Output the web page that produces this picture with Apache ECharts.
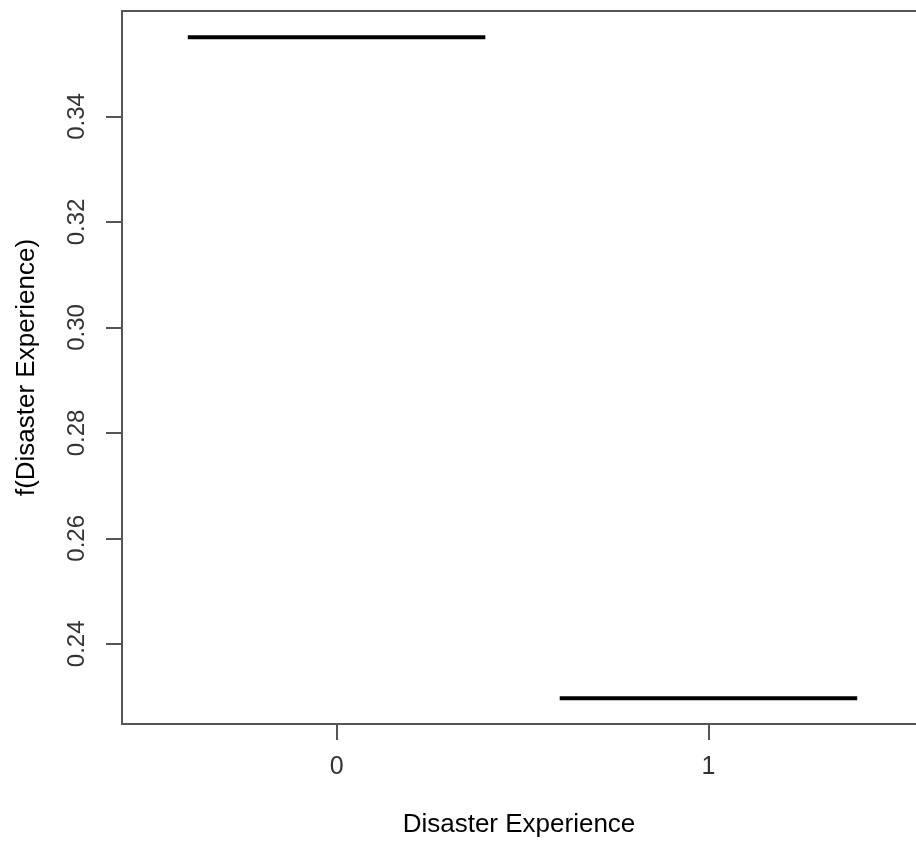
<!DOCTYPE html>
<html>
<head>
<meta charset="utf-8">
<script src="https://cdn.jsdelivr.net/npm/echarts@6/dist/echarts.min.js"></script>
<style>
  html, body { margin: 0; padding: 0; background: #fff; }
  #main { width: 916px; height: 846px; }
</style>
</head>
<body>
<div id="main"></div>
<script type="text/javascript">
    // levels of the factor and the fitted effect for each
    var levels = [0, 1];
    var effects = [0.355, 0.2297];
    var halfWidth = 0.4;
    var yTicks = [0.24, 0.26, 0.28, 0.30, 0.32, 0.34];

    var series = [];
    for (var i = 0; i < levels.length; i++) {
        series.push({
            type: 'line',
            symbol: 'none',
            silent: true,
            lineStyle: { color: '#000', width: 4 },
            data: [[levels[i] - halfWidth, effects[i]], [levels[i] + halfWidth, effects[i]]]
        });
    }

    var font = 'Liberation Sans, Arial, sans-serif';
    var boxLine = { color: '#555', width: 2 };

    var option = {
        animation: false,
        backgroundColor: '#fff',
        grid: { left: 122, top: 11, bottom: 122, right: 0 },
        xAxis: [{
            type: 'value',
            min: -0.577,
            max: 1.558,
            name: 'Disaster Experience',
            nameLocation: 'middle',
            nameGap: 88,
            nameTextStyle: { fontFamily: font, fontSize: 26, color: '#000' },
            axisLine: { show: true, onZero: false, lineStyle: boxLine },
            splitLine: { show: false },
            axisTick: { show: true, customValues: levels, length: 16, lineStyle: boxLine },
            axisLabel: { customValues: levels, margin: 31, fontFamily: font, fontSize: 25, color: '#333' }
        }, {
            // top edge of the box
            type: 'value',
            position: 'top',
            min: -0.577,
            max: 1.558,
            axisLine: { show: true, onZero: false, lineStyle: boxLine },
            axisTick: { show: false },
            axisLabel: { show: false },
            splitLine: { show: false }
        }],
        yAxis: {
            type: 'value',
            min: 0.2248,
            max: 0.36,
            name: 'f(Disaster Experience)',
            nameLocation: 'middle',
            nameGap: 82,
            nameTextStyle: { fontFamily: font, fontSize: 26, color: '#000' },
            axisLine: { show: true, onZero: false, lineStyle: boxLine },
            splitLine: { show: false },
            axisTick: { show: true, customValues: yTicks, length: 16, lineStyle: boxLine },
            axisLabel: {
                customValues: yTicks, rotate: 90, margin: 33,
                fontFamily: font, fontSize: 24, color: '#333',
                formatter: function (v) { return v.toFixed(2); }
            }
        },
        series: series
    };

    var chart = echarts.init(document.getElementById('main'));
    chart.setOption(option);
</script>
</body>
</html>
